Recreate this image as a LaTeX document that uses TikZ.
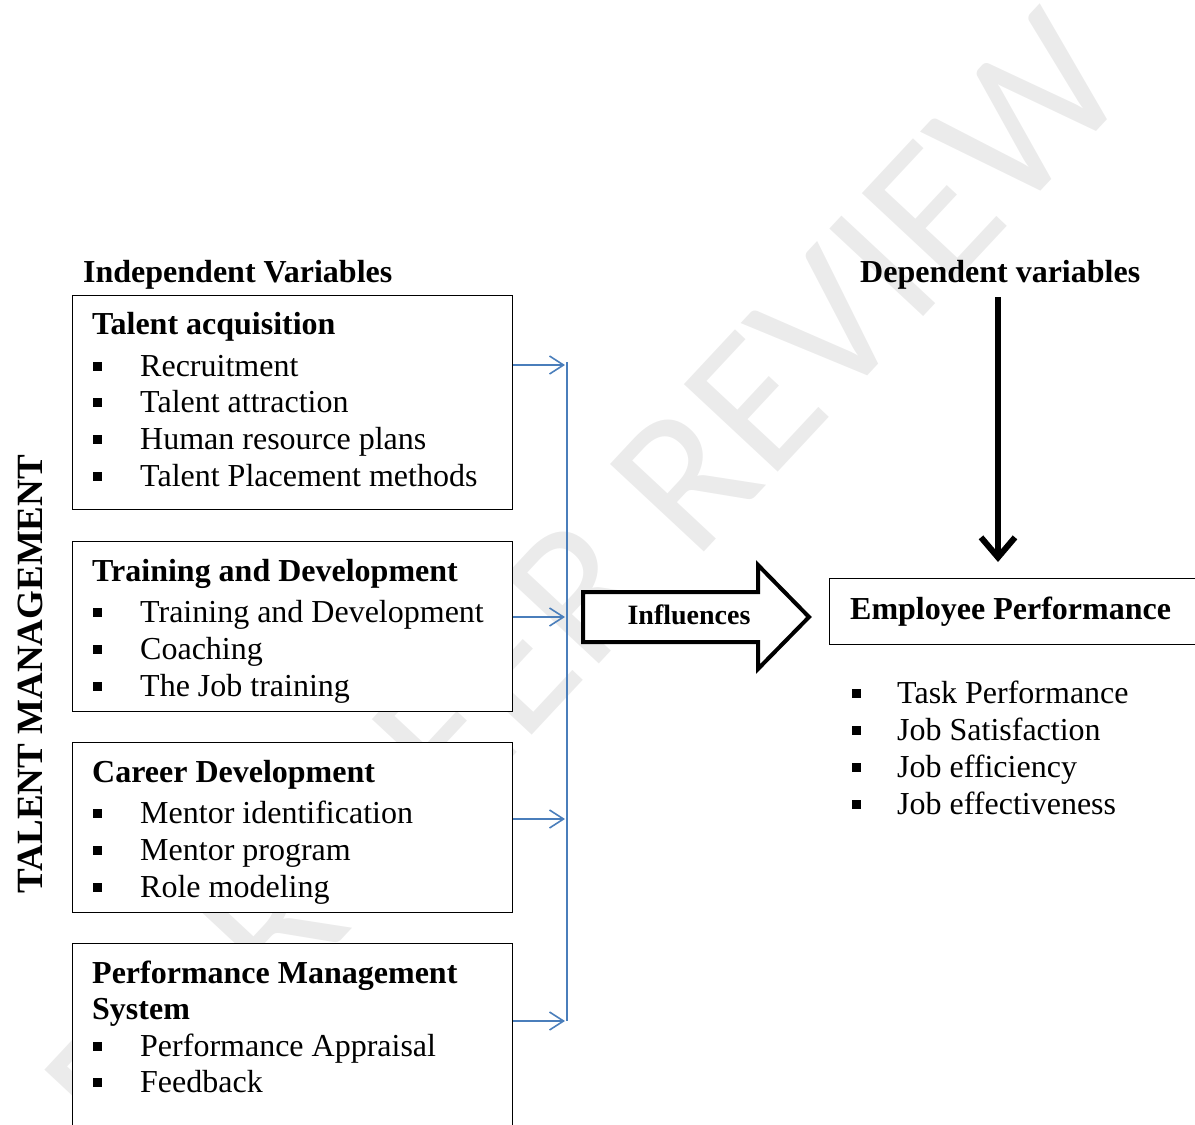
\documentclass[tikz,border=0pt]{standalone}
\usepackage{fontspec}
\setmainfont{Liberation Serif}
\newfontfamily\wmfont{Carlito}
\usetikzlibrary{arrows.meta}
\definecolor{lnblue}{RGB}{74,126,187}
\newcommand\sqbul{\rule[5pt]{9pt}{9pt}}
\begin{document}
\begin{tikzpicture}[x=1pt,y=-1pt,
  txt/.style={inner sep=0pt, anchor=base west, font=\fontsize{32}{37}\selectfont},
  hd/.style={inner sep=0pt, anchor=base west, font=\fontsize{32}{37}\selectfont\bfseries},
  box/.style={draw, line width=1.2pt, fill=white, inner sep=0pt, anchor=north west, minimum width=440pt},
  feed/.style={draw=lnblue, line width=1.6pt, -{Straight Barb[length=14pt,width=18pt]}},
  bus/.style={draw=lnblue, line width=1.6pt},
]
\useasboundingbox (0,0) rectangle (1195,1125);
\clip (0,0) rectangle (1195,1125);
% watermark
\node[rotate=47, text=gray!16, font=\wmfont\fontsize{200}{200}\selectfont] (wm) at (585,585) {FOR PEER REVIEW};

% headings
\node[hd] (iv) at (83,282) {Independent Variables};
\node[hd] (dv) at (860,282) {Dependent variables};

% boxes
\node[box, minimum height=214pt] (box1) at (72,295) {};
\node[box, minimum height=170pt] (box2) at (72,541) {};
\node[box, minimum height=170pt] (box3) at (72,742) {};
\node[box, minimum height=260pt] (box4) at (72,943) {};

% box 1
\node[hd] (h1) at (92,334) {Talent acquisition};
\foreach \n/\y/\t in {1/376/Recruitment, 2/412/Talent attraction, 3/449/Human resource plans, 4/486/Talent Placement methods}
  \node[txt] (ia\n) at (93,\y) {\sqbul\hspace{38pt}\t};
% box 2
\node[hd] (h2) at (92,581) {Training and Development};
\foreach \n/\y/\t in {1/622/Training and Development, 2/659/Coaching, 3/696/The Job training}
  \node[txt] (ib\n) at (93,\y) {\sqbul\hspace{38pt}\t};
% box 3
\node[hd] (h3) at (92,782) {Career Development};
\foreach \n/\y/\t in {1/823/Mentor identification, 2/860/Mentor program, 3/897/Role modeling}
  \node[txt] (ic\n) at (93,\y) {\sqbul\hspace{38pt}\t};
% box 4
\node[hd] (h4) at (92,983) {Performance Management};
\node[hd] (h4b) at (92,1019) {System};
\foreach \n/\y/\t in {1/1056/Performance Appraisal, 2/1092/Feedback}
  \node[txt] (id\n) at (93,\y) {\sqbul\hspace{38pt}\t};

% side title
\node[rotate=90, anchor=base, inner sep=0pt, font=\fontsize{37}{40}\selectfont\bfseries] (tm) at (42,674) {TALENT MANAGEMENT};

% blue connectors
\coordinate (j1) at (565,365);
\coordinate (j2) at (565,617);
\coordinate (j3) at (565,819);
\coordinate (j4) at (565,1021);
\coordinate (vtop) at (567,362);
\coordinate (vbot) at (567,1021);
\draw[feed] (box1.east |- j1) -- (j1);
\draw[feed] (box2.east |- j2) -- (j2);
\draw[feed] (box3.east |- j3) -- (j3);
\draw[feed] (box4.east |- j4) -- (j4);
\draw[bus] (vtop) -- (vbot);

% influences block arrow
\draw[line width=4pt, fill=white, line join=miter] (583,592) -- (758,592) -- (758,565) -- (809,617) -- (758,669) -- (758,642) -- (583,642) -- cycle;
\node[inner sep=0pt, anchor=base, font=\fontsize{28}{30}\selectfont\bfseries] (infl) at (689,624) {Influences};

% dependent variable box
\node[draw, line width=1.2pt, fill=white, anchor=north west, inner sep=0pt, minimum width=380pt, minimum height=66pt] (ep) at (829,578) {};
\node[hd] (ept) at (850,619) {Employee Performance};
\foreach \n/\y/\t in {1/703/Task Performance, 2/740/Job Satisfaction, 3/777/Job efficiency, 4/814/Job effectiveness}
  \node[txt] (ie\n) at (852,\y) {\sqbul\hspace{36pt}\t};

% down arrow
\coordinate (dtop) at (998,297);
\coordinate (dend) at (998,562);
\draw[line width=6pt, -{Straight Barb[length=20pt,width=34pt]}] (dtop) -- (dend);
\end{tikzpicture}
\end{document}
